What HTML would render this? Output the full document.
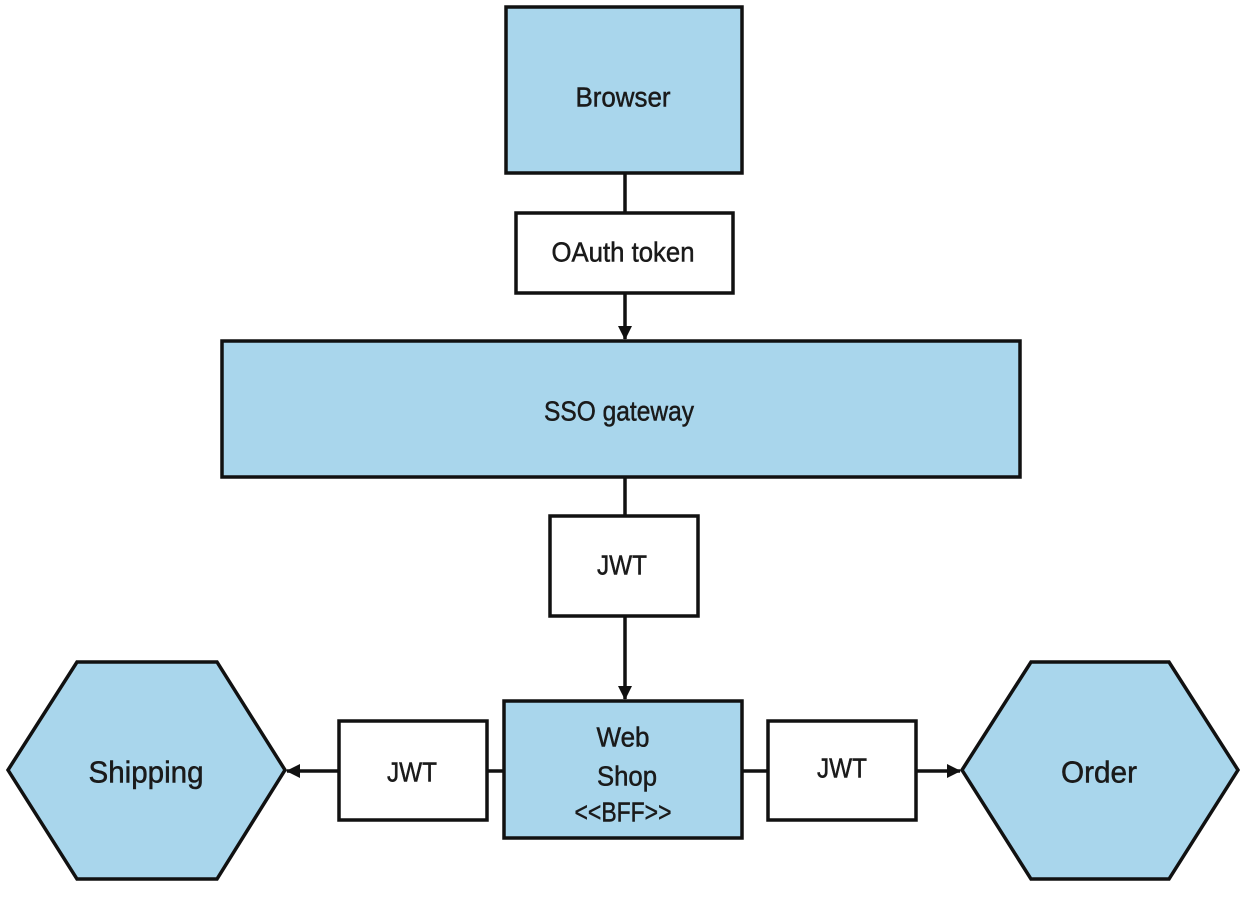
<!DOCTYPE html>
<html><head><style>
html,body{margin:0;padding:0;background:#fff;}
svg{display:block}
text{font-family:"Liberation Sans",sans-serif;font-size:28px;fill:#1a1a1a;text-anchor:middle;dominant-baseline:central}
</style></head><body>
<svg width="1245" height="897" viewBox="0 0 1245 897" xmlns="http://www.w3.org/2000/svg">
<defs>
<marker id="b" markerWidth="14" markerHeight="14" refX="13" refY="7" orient="auto" markerUnits="userSpaceOnUse"><path d="M0,0 L14,7 L0,14 z" fill="#111"/></marker></defs>
<g stroke="#111" stroke-width="3.5">
<line x1="625" y1="173" x2="625" y2="213"/>
<line x1="625" y1="293" x2="625" y2="339" marker-end="url(#b)"/>
<line x1="625" y1="477" x2="625" y2="516"/>
<line x1="625" y1="616" x2="625" y2="699" marker-end="url(#b)"/>
<line x1="505" y1="771" x2="487" y2="771"/>
<line x1="339" y1="771" x2="287" y2="771" marker-end="url(#b)"/>
<line x1="741" y1="771" x2="768" y2="771"/>
<line x1="916" y1="771" x2="960" y2="771" marker-end="url(#b)"/>
<rect x="506" y="7" width="236" height="166" fill="#a9d6ec"/>
<rect x="516" y="213" width="217" height="80" fill="#fff"/>
<rect x="222" y="341" width="798" height="136" fill="#a9d6ec"/>
<rect x="550" y="516" width="148" height="100" fill="#fff"/>
<rect x="504" y="701" width="238" height="137" fill="#a9d6ec"/>
<rect x="339" y="721" width="148" height="99" fill="#fff"/>
<rect x="768" y="721" width="148" height="99" fill="#fff"/>
<polygon points="77,662 217,662 285,770 217,879 77,879 8,770" fill="#a9d6ec"/>
<polygon points="1031,662 1169,662 1238,770 1169,879 1031,879 962,770" fill="#a9d6ec"/>
</g>
<g stroke="#1a1a1a" stroke-width="0.5">
<text x="623" y="97" textLength="95" lengthAdjust="spacingAndGlyphs">Browser</text>
<text x="623" y="252" textLength="143" lengthAdjust="spacingAndGlyphs">OAuth token</text>
<text x="619" y="411" textLength="150" lengthAdjust="spacingAndGlyphs">SSO gateway</text>
<text x="622" y="565" textLength="50" lengthAdjust="spacingAndGlyphs">JWT</text>
<text x="623" y="737" textLength="53" lengthAdjust="spacingAndGlyphs">Web</text>
<text x="627" y="776" textLength="60" lengthAdjust="spacingAndGlyphs">Shop</text>
<text x="623" y="812" textLength="97" lengthAdjust="spacingAndGlyphs">&lt;&lt;BFF&gt;&gt;</text>
<text x="412" y="772" textLength="50" lengthAdjust="spacingAndGlyphs">JWT</text>
<text x="842" y="768" textLength="50" lengthAdjust="spacingAndGlyphs">JWT</text>
<text x="146" y="772" style="font-size:31px" textLength="115" lengthAdjust="spacingAndGlyphs">Shipping</text>
<text x="1099" y="772" style="font-size:31px" textLength="76" lengthAdjust="spacingAndGlyphs">Order</text>
</g>
</svg>
</body></html>
